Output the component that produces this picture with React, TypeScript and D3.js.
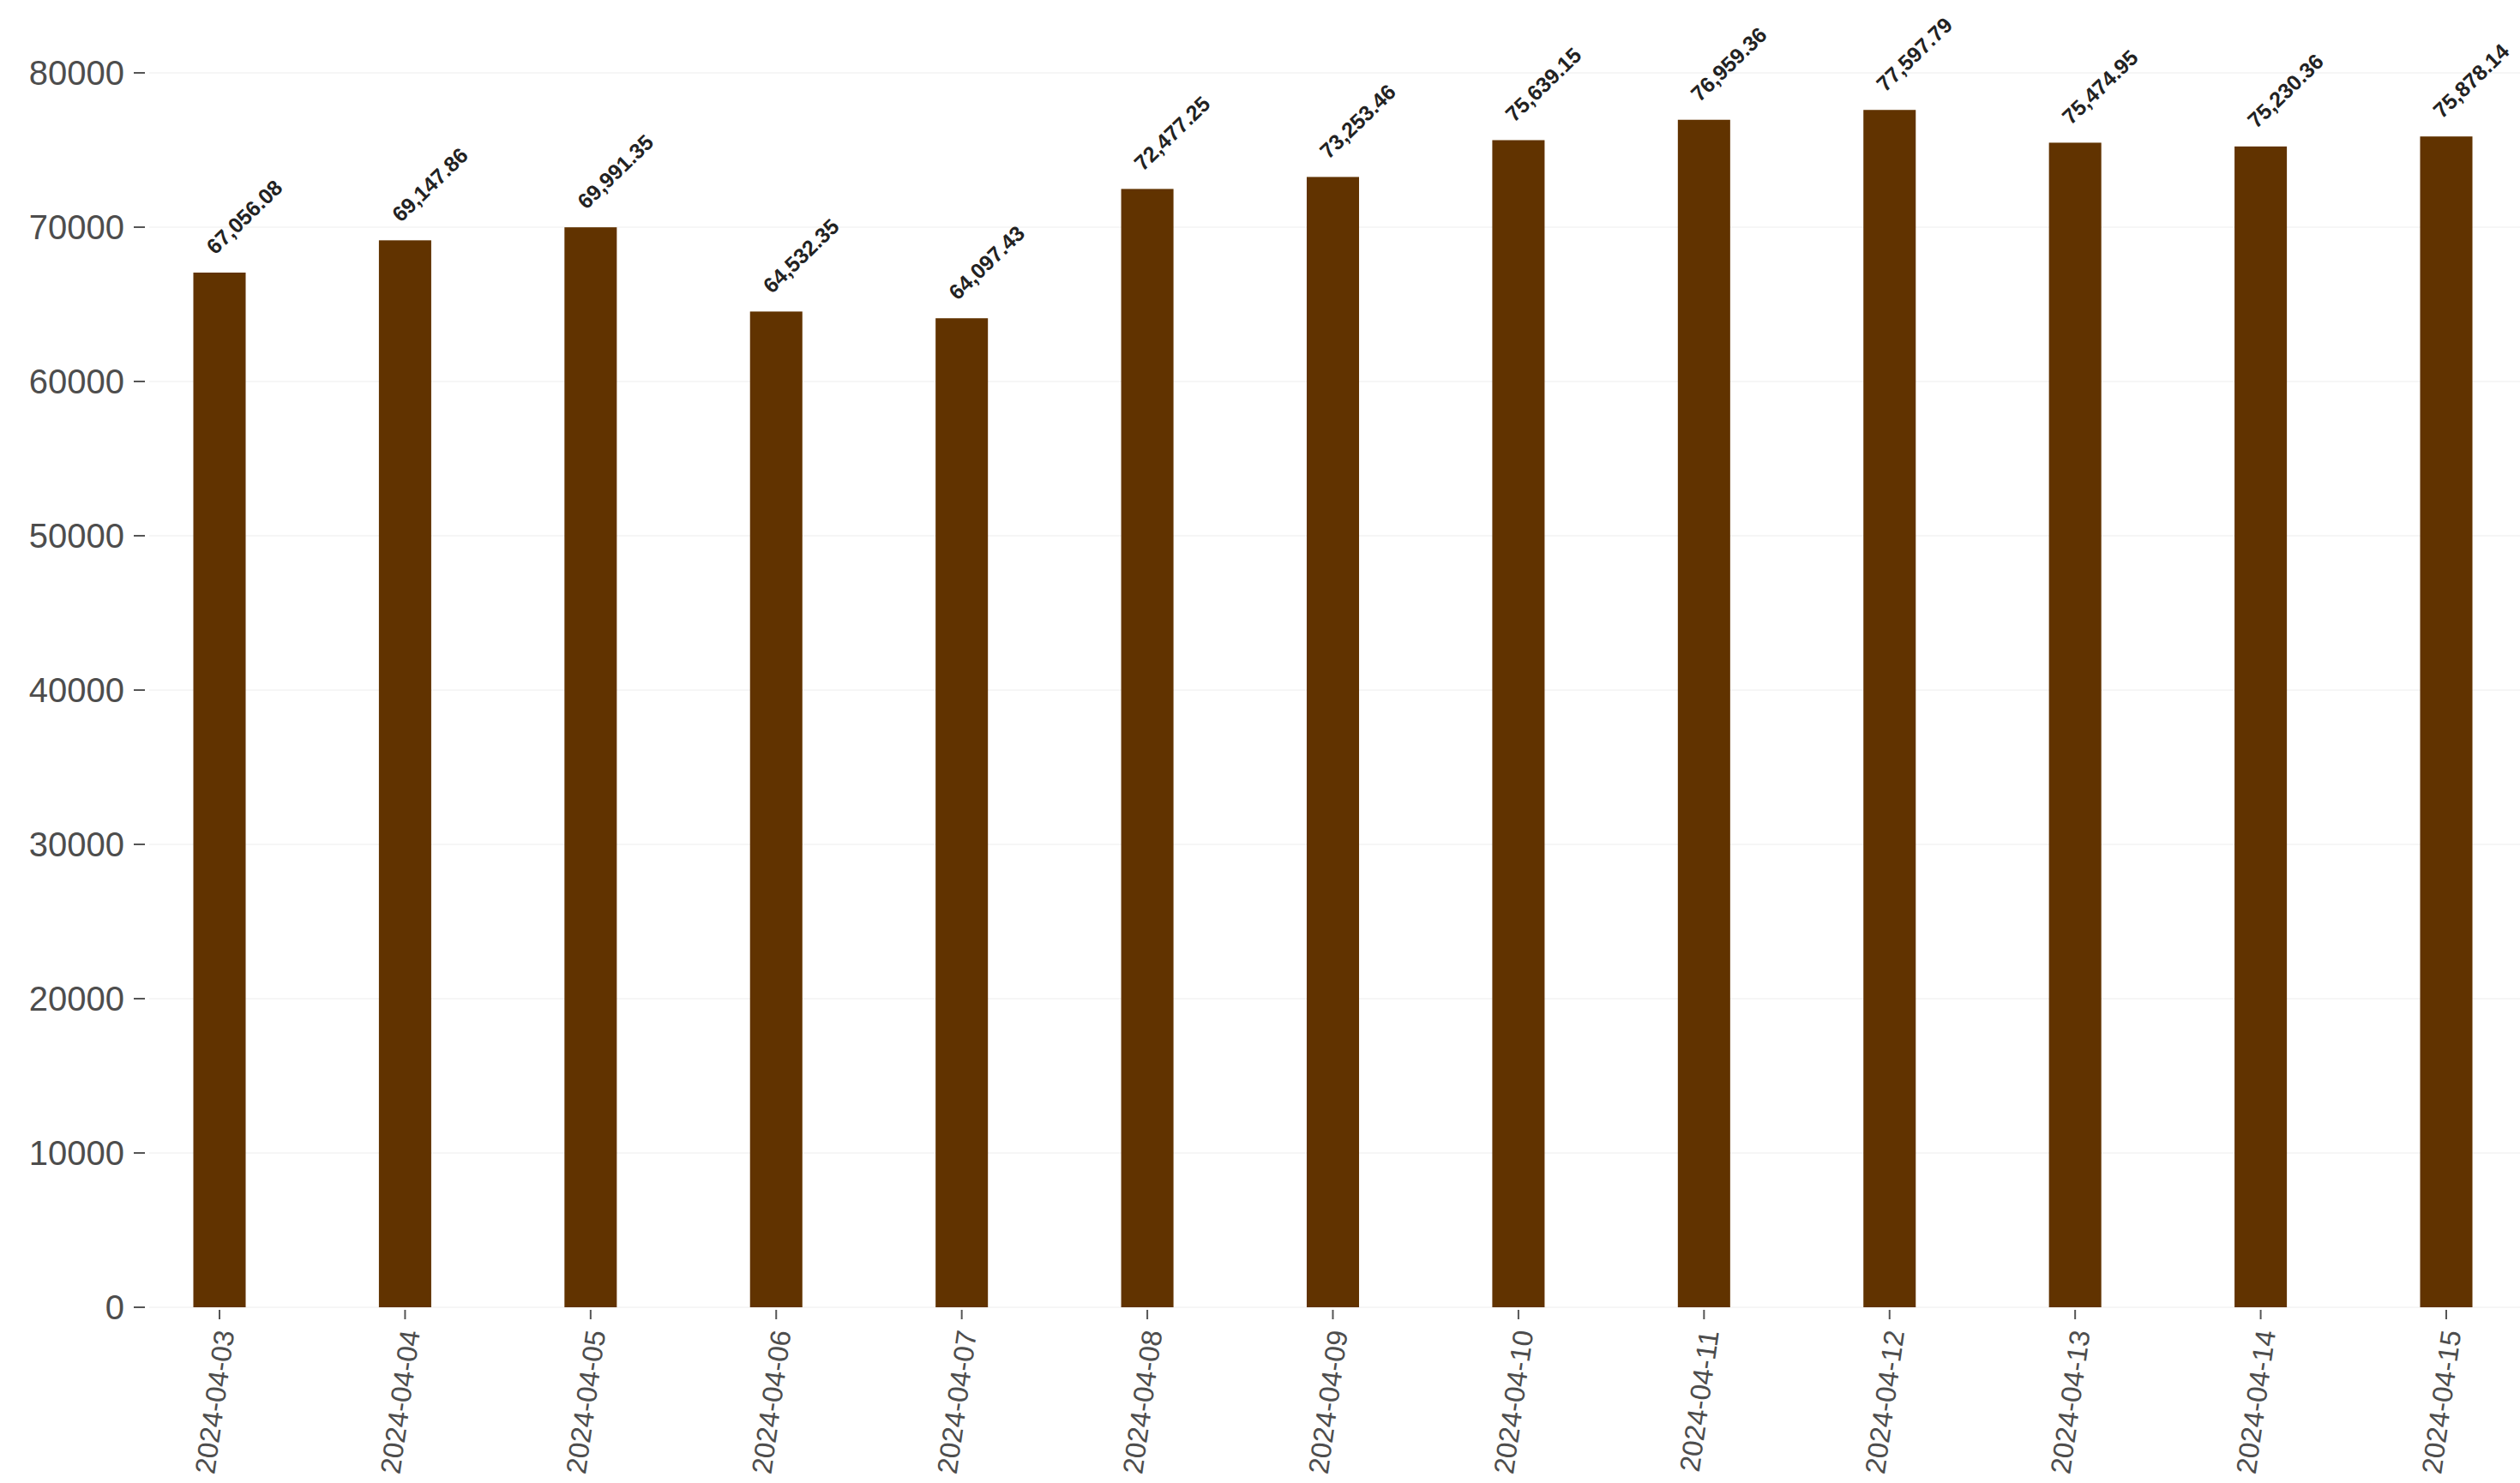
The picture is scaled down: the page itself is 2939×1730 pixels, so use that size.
import React from "react";
import * as d3 from "d3";

const dates = [
  "2024-04-03", "2024-04-04", "2024-04-05", "2024-04-06", "2024-04-07",
  "2024-04-08", "2024-04-09", "2024-04-10", "2024-04-11", "2024-04-12",
  "2024-04-13", "2024-04-14", "2024-04-15",
];
const values = [
  67056.08, 69147.86, 69991.35, 64532.35, 64097.43, 72477.25, 73253.46,
  75639.15, 76959.36, 77597.79, 75474.95, 75230.36, 75878.14,
];
const yTicks = [0, 10000, 20000, 30000, 40000, 50000, 60000, 70000, 80000];

const W = 2939;
const H = 1730;
const BAR_COLOR = "#613300";
const FONT = "'Liberation Sans', Arial, sans-serif";

export default function App() {
  const x = d3.scalePoint<string>().domain(dates).range([256, 2853]);
  const step = x.step();
  const barW = step * 0.282;
  const y = d3.scaleLinear().domain([0, 80000]).range([1525, 85]);
  const fmt = d3.format(",.2f");
  const plotLeft = 174;

  return (
    <div style={{ position: "fixed", left: 0, top: 0 }}>
      <svg width={W} height={H} style={{ display: "block", background: "#fff" }}>
        {yTicks.map((t) => (
          <g key={t}>
            <line x1={plotLeft} x2={W} y1={y(t)} y2={y(t)} stroke="#f6f6f6" strokeWidth={2} />
            <line x1={156} x2={169} y1={y(t)} y2={y(t)} stroke="#555" strokeWidth={2} />
            <text
              x={145}
              y={y(t)}
              textAnchor="end"
              dominantBaseline="central"
              fontFamily={FONT}
              fontSize={40}
              fill="#4d4d4d"
            >
              {t}
            </text>
          </g>
        ))}
        {dates.map((d, i) => {
          const cx = x(d)!;
          const top = y(values[i]);
          return (
            <g key={d}>
              <rect x={cx - barW / 2} y={top} width={barW} height={y(0) - top} fill={BAR_COLOR} />
              <line x1={cx} x2={cx} y1={1528} y2={1539} stroke="#555" strokeWidth={2} />
              <text
                transform={`translate(${cx + 6},${1552}) rotate(-82)`}
                textAnchor="end"
                dominantBaseline="central"
                fontFamily={FONT}
                fontSize={33}
                fill="#4d4d4d"
              >
                {d}
              </text>
              <text
                transform={`translate(${cx - 5},${top - 20}) rotate(-44)`}
                textAnchor="start"
                fontFamily={FONT}
                fontSize={25}
                fontWeight="bold"
                fill="#222"
              >
                {fmt(values[i])}
              </text>
            </g>
          );
        })}
      </svg>
    </div>
  );
}
